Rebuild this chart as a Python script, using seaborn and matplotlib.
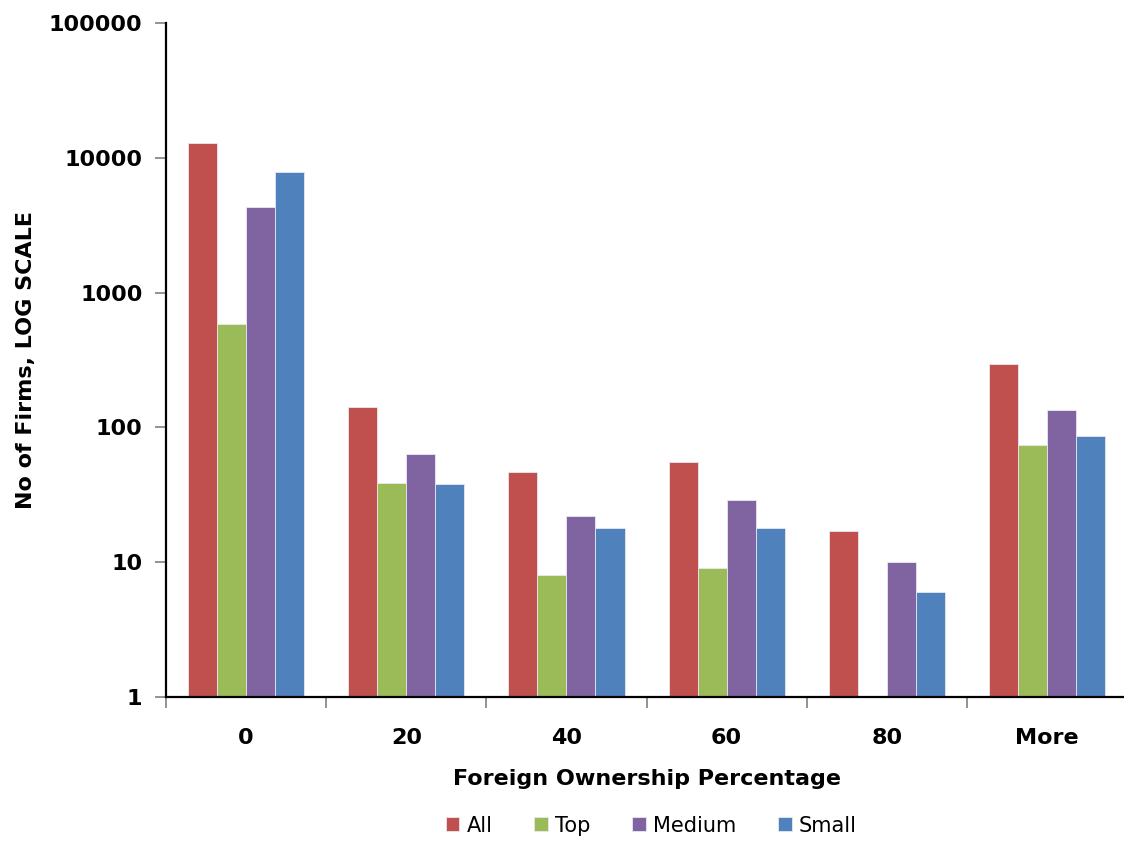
import numpy as np
import pandas as pd
import seaborn as sns
import matplotlib.pyplot as plt
from matplotlib.ticker import FixedLocator, NullLocator, FuncFormatter

# bins of foreign ownership and firm counts per size class
bins = ["0", "20", "40", "60", "80", "More"]
groups = ["All", "Top", "Medium", "Small"]
all_firms = [12800, 141, 47, 55, 17, 295]
top_firms = [580, 39, 8, 9, 0, 74]
medium_firms = [4300, 64, 22, 29, 10, 134]
small_firms = [7900, 38, 18, 18, 6, 87]

colors = ["#C0504D", "#9BBB59", "#8064A2", "#4F81BD"]

df = pd.DataFrame({"bin": bins, "All": all_firms, "Top": top_firms,
                   "Medium": medium_firms, "Small": small_firms})
df = pd.melt(df, id_vars=["bin"], value_vars=groups, var_name="group", value_name="firms")
df["firms"] = df["firms"].replace(0, np.nan)

sns.set_style("white")
plt.rcParams["font.family"] = ["DejaVu Sans"]
plt.rcParams["text.color"] = "black"
plt.rcParams["axes.labelcolor"] = "black"
plt.rcParams["xtick.labelcolor"] = "black"
plt.rcParams["ytick.labelcolor"] = "black"

fig = plt.figure(figsize=(11.24, 8.41), dpi=100)
ax = fig.add_axes([0.1477, 0.1712, 0.855, 0.8015])
ax.set_yscale("log")
sns.barplot(data=df, x="bin", y="firms", hue="group", hue_order=groups,
            palette=colors, width=0.725, gap=0, saturation=1,
            edgecolor="#e8e8f0", linewidth=0.6, ax=ax, legend=True)

ax.set_ylim(1, 100000)
ax.set_xlim(-0.5, 5.5)
ax.yaxis.set_major_locator(FixedLocator([1, 10, 100, 1000, 10000, 100000]))
ax.yaxis.set_minor_locator(NullLocator())
ax.yaxis.set_major_formatter(FuncFormatter(lambda v, p: f"{int(round(v))}"))
ax.xaxis.set_minor_locator(FixedLocator([-0.5, 0.5, 1.5, 2.5, 3.5, 4.5]))

for s in ["top", "right"]:
    ax.spines[s].set_visible(False)
for s in ["left", "bottom"]:
    ax.spines[s].set_color("black")
    ax.spines[s].set_linewidth(1.6)

ax.tick_params(axis="y", which="major", left=True, length=8, width=1.2,
               color="#808080", labelsize=16, pad=9)
ax.tick_params(axis="x", which="major", bottom=False, labelsize=16, pad=19)
ax.tick_params(axis="x", which="minor", bottom=True, length=8, width=1.2,
               color="#808080")
for lab in ax.get_xticklabels() + ax.get_yticklabels():
    lab.set_fontweight("bold")

ax.set_xlabel("Foreign Ownership Percentage", fontsize=16, fontweight="bold", labelpad=15)
ax.set_ylabel("No of Firms, LOG SCALE", fontsize=16, fontweight="bold", labelpad=9)

ax.legend(loc="upper center", bbox_to_anchor=(0.505, -0.148), ncol=4, frameon=False,
          fontsize=15, handlelength=0.65, handleheight=0.65, handletextpad=0.35,
          columnspacing=2.0)

fig.savefig("out.png", dpi=100)
